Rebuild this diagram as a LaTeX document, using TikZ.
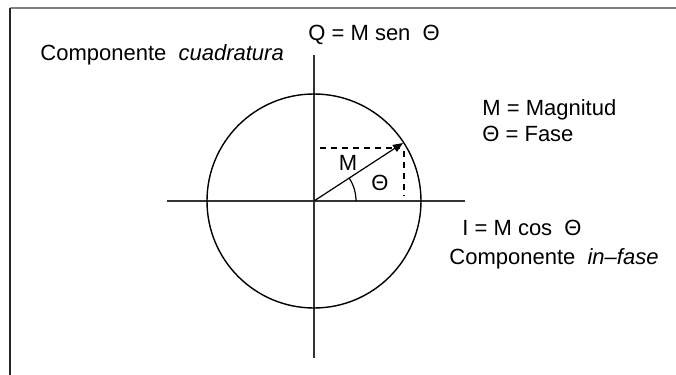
\documentclass[tikz,border=0pt]{standalone}
\usepackage{fontspec}
\setmainfont{Liberation Sans}
\usetikzlibrary{arrows.meta}

\begin{document}
\begin{tikzpicture}[x=0.5pt,y=-0.5pt,
  lbl/.style={font=\fontsize{11}{13}\selectfont,inner sep=0pt,anchor=base west},
  axis/.style={line width=0.9pt,black!80}]
\useasboundingbox (0,0) rectangle (676,375);
% marco
\draw[line width=1.2pt,gray] (10,8) -- (676,8);
\draw[line width=1.2pt,black!85] (10,8) -- (10,375);
% ejes y circulo
\coordinate (O) at (314,201);
\coordinate (xl) at (167,201); \coordinate (xr) at (465,201);
\coordinate (yt) at (314,55); \coordinate (yb) at (314,358);
\draw[axis] (xl) -- (xr);
\draw[axis] (yt) -- (yb);
\draw[line width=0.7pt] (O) circle (107);
% vector M
\coordinate (P) at (403,143);
\coordinate (Qa) at (320,148); \coordinate (Qb) at (400,148);
\coordinate (Ia) at (404,151); \coordinate (Ib) at (404,196);
\draw[dash pattern=on 3pt off 2.5pt,line width=0.6pt] (Qa) -- (Qb);
\draw[dash pattern=on 3pt off 2.5pt,line width=0.6pt] (Ia) -- (Ib);
\draw[line width=0.6pt,-{Triangle[length=5pt,width=4pt]}] (O) -- (P);
\draw[line width=0.6pt] (O) ++(42,0) arc[start angle=0,end angle=33,radius=21pt];
\node[font=\fontsize{11}{13}\selectfont,inner sep=0pt] (m) at (348,163) {M};
\node[font=\fontsize{11}{13}\selectfont,inner sep=0pt] (th) at (380,183) {Θ};
% textos
\node[lbl] (q) at (308,40) {Q = M sen \ Θ};
\node[lbl] (cq) at (40,61) {Componente \ \textit{cuadratura}};
\node[lbl] (mag) at (482,115) {M = Magnitud};
\node[lbl] (fase) at (482,141) {Θ = Fase};
\node[lbl] (icos) at (462,235) {I = M cos \ Θ};
\node[lbl] (cin) at (449,264) {Componente \ \textit{in–fase}};
\end{tikzpicture}
\end{document}
